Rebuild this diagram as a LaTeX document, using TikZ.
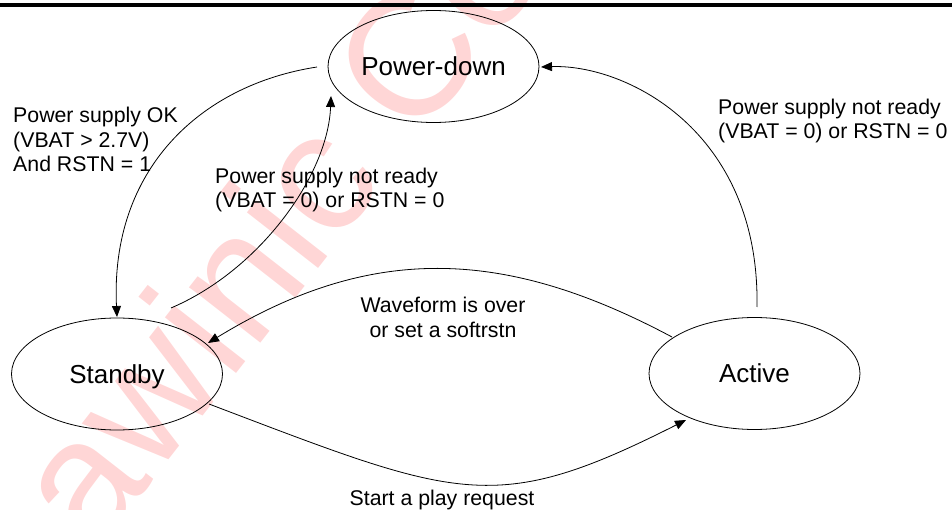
\documentclass[tikz,border=0pt]{standalone}
\usepackage{fontspec}
\setmainfont{Liberation Sans}
\usetikzlibrary{shapes.geometric,arrows.meta}
\definecolor{wmred}{RGB}{255,214,214}
\tikzset{
  state/.style={draw=black, line width=0.8pt, ellipse, minimum width=211pt, minimum height=112pt, inner sep=0pt,
    font=\fontsize{26}{30}\selectfont, text height=18.7pt, text depth=0pt},
  conn/.style={draw=black, line width=0.8pt, -{Triangle[length=11pt,width=9pt]}},
  lbl/.style={font=\fontsize{21.3}{24.5}\selectfont, inner sep=0pt},
  wmark/.style={text=wmred, font=\fontsize{171}{171}\selectfont, inner sep=0pt}
}
\begin{document}
\begin{tikzpicture}[x=1pt,y=-1pt]
\useasboundingbox (0,0) rectangle (952,510);
% watermark
\begin{scope}
\clip (0,0) rectangle (952,510);
\node[wmark, anchor=base west, rotate=52] (wm) at (95,555) {awinic Confidential};
\end{scope}
% top rule
\fill[black] (0,3) rectangle (952,7);
% states
\node[state] (pd) at (433.5,66.5) {Power-down};
\node[state] (sb) at (117,374) {Standby};
\node[state] (ac) at (754.5,373.5) {Active};
% connectors
\draw[conn] ([shift={(-116.5,0.5)}]pd.center) .. controls (200,85) and (110,170) .. ([shift={(0,-57)}]sb.center);
\draw[conn] ([shift={(54,-66)}]sb.center) .. controls (260,270) and (328,175) .. ([shift={(-102.5,29.5)}]pd.center);
\draw[conn] ([shift={(2.5,-66.5)}]ac.center) .. controls (760,130) and (625,64) .. ([shift={(107.5,0.5)}]pd.center);
\draw[conn] ([shift={(-82.5,-36.5)}]ac.center) .. controls (507,249) and (373,242) .. ([shift={(91,-31)}]sb.center);
\draw[conn] ([shift={(92,30)}]sb.center) .. controls (459,499) and (494,517) .. ([shift={(-68.5,46.5)}]ac.center);
% labels (base anchor = baseline of last line)
\node[lbl, align=left, anchor=base west] (l1) at (13,172) {Power supply OK\\(VBAT > 2.7V)\\And RSTN = 1};
\node[lbl, align=left, anchor=base west] (l2) at (215,208) {Power supply not ready\\(VBAT = 0) or RSTN = 0};
\node[lbl, align=left, anchor=base west] (l3) at (718,139) {Power supply not ready\\(VBAT = 0) or RSTN = 0};
\node[lbl, align=center, anchor=base] (l4) at (443,337) {Waveform is over\\or set a softrstn};
\node[lbl, anchor=base] (l5) at (442,505) {Start a play request};
\end{tikzpicture}
\end{document}
